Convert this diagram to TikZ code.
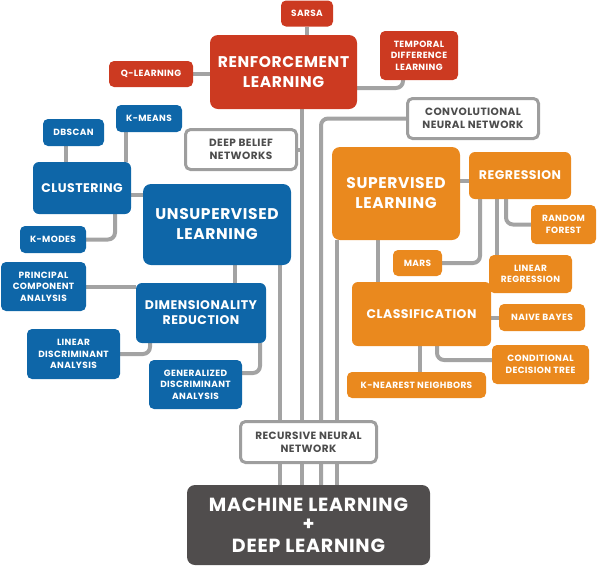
\documentclass[tikz,border=0pt]{standalone}
\usepackage{fontspec}
\setmainfont{Poppins}[LetterSpace=4]
\definecolor{rlred}{RGB}{204,58,33}
\definecolor{ulblue}{RGB}{14,102,168}
\definecolor{slorange}{RGB}{234,137,30}
\definecolor{mlgray}{RGB}{80,77,77}
\definecolor{linegray}{RGB}{163,163,163}
\definecolor{bordgray}{RGB}{158,158,158}
\definecolor{txtgray}{RGB}{77,77,77}
\pgfdeclarelayer{bg}
\pgfsetlayers{bg,main}
\tikzset{
  sz/.style 2 args={minimum width=#1pt, minimum height=#2pt},
  boxbase/.style={rounded corners=5pt, inner sep=0pt, align=center, text=white},
  redbox/.style={boxbase, fill=rlred},
  bluebox/.style={boxbase, fill=ulblue},
  orangebox/.style={boxbase, fill=slorange},
  graybox/.style={boxbase, fill=white, draw=bordgray, line width=3pt, text=txtgray,
     font=\fontsize{10.5}{13}\selectfont\bfseries},
  bigtxt/.style={rounded corners=8pt, font=\fontsize{15.5}{20}\selectfont\bfseries},
  midtxt/.style={rounded corners=6pt, font=\fontsize{12.5}{15}\selectfont\bfseries},
  smalltxt/.style={font=\fontsize{9}{11.5}\selectfont\bfseries},
  conn/.style={draw=linegray, line width=4pt, rounded corners=7pt},
}
\begin{document}
\begin{tikzpicture}[x=1pt,y=-1pt]
\useasboundingbox (0,0) rectangle (599,566);
% nodes
\node[redbox,bigtxt,sz={147}{74}] (rl) at (283.5,72) {RENFORCEMENT\\LEARNING};
\node[redbox,smalltxt,sz={52}{26}] (sarsa) at (307,13.5) {SARSA};
\node[redbox,smalltxt,sz={84}{26}] (ql) at (151,74) {Q-LEARNING};
\node[redbox,smalltxt,sz={78}{49}] (tdl) at (419,55.5) {TEMPORAL\\DIFFERENCE\\LEARNING};
\node[graybox,sz={131}{40}] (cnn) at (473,118.5) {CONVOLUTIONAL\\NEURAL NETWORK};
\node[graybox,sz={111}{40}] (dbn) at (241,149.5) {DEEP BELIEF\\NETWORKS};
\node[bluebox,midtxt,sz={98}{52}] (clu) at (82,188) {CLUSTERING};
\node[bluebox,smalltxt,sz={61}{27}] (dbscan) at (73.5,132.5) {DBSCAN};
\node[bluebox,smalltxt,sz={66}{27}] (kmeans) at (149,118.5) {K-MEANS};
\node[bluebox,smalltxt,sz={66}{27}] (kmodes) at (53,239.5) {K-MODES};
\node[bluebox,bigtxt,sz={148}{81}] (ul) at (217,224.5) {UNSUPERVISED\\LEARNING};
\node[bluebox,midtxt,sz={130}{60}] (dr) at (201,313) {DIMENSIONALITY\\REDUCTION};
\node[bluebox,smalltxt,sz={85}{49}] (pca) at (43.5,286.5) {PRINCIPAL\\COMPONENT\\ANALYSIS};
\node[bluebox,smalltxt,sz={93}{50}] (lda) at (73.5,354) {LINEAR\\DISCRIMINANT\\ANALYSIS};
\node[bluebox,smalltxt,sz={93}{49}] (gda) at (195.5,384.5) {GENERALIZED\\DISCRIMINANT\\ANALYSIS};
\node[orangebox,bigtxt,sz={128}{93}] (sl) at (396,193.5) {SUPERVISED\\LEARNING};
\node[orangebox,midtxt,sz={102}{47}] (reg) at (520,175.5) {REGRESSION};
\node[orangebox,smalltxt,sz={65}{39}] (rf) at (563.5,224.5) {RANDOM\\FOREST};
\node[orangebox,smalltxt,sz={83}{38}] (lr) at (530.5,274) {LINEAR\\REGRESSION};
\node[orangebox,smalltxt,sz={49}{26}] (mars) at (417.5,263) {MARS};
\node[orangebox,midtxt,sz={139}{64}] (cls) at (421.5,314) {CLASSIFICATION};
\node[orangebox,smalltxt,sz={86}{27}] (nb) at (542,317.5) {NAIVE BAYES};
\node[orangebox,smalltxt,sz={97}{39}] (cdt) at (540.5,364.5) {CONDITIONAL\\DECISION TREE};
\node[orangebox,smalltxt,sz={139}{26}] (knn) at (416.5,385) {K-NEAREST NEIGHBORS};
\node[boxbase,fill=mlgray,rounded corners=8pt,sz={243}{80},font=\fontsize{19}{21.5}\selectfont\bfseries] (ml) at (308.5,525) {MACHINE LEARNING\\[-2pt]+\\DEEP LEARNING};
% connectors
\begin{pgfonlayer}{bg}
\path[conn] (sarsa.south) -- (sarsa.south |- rl.north);
\path[conn] (ql.east) -- (ql.east -| rl.west);
\path[conn] ([xshift=-16pt]tdl.south) |- ([yshift=-16pt]rl.east);
\path[conn] ([xshift=18.5pt]rl.south) -- ([xshift=18.5pt]rl.south |- ml.north);
\path[conn] (dbn.east) -- ([xshift=18.5pt]rl.south |- dbn.east);
\path[conn] (cnn.west) -| ([xshift=12.5pt]ml.north);
\path[conn] ([xshift=63pt]ul.south) -- ([xshift=63pt]ul.south |- ml.north);
\path[conn] ([xshift=-59pt]sl.south) -- ([xshift=-59pt]sl.south |- ml.north);
\path[conn] ([yshift=-7pt]clu.east) -- ([yshift=-7pt]clu.east -| ul.west);
\path[conn] ([xshift=-7.5pt]dbscan.south) -- ([xshift=-7.5pt]dbscan.south |- clu.north);
\path[conn] ([xshift=-23pt]kmeans.south) -- ([xshift=-23pt]kmeans.south |- clu.north);
\path[conn] ([xshift=33pt]clu.south) |- (kmodes.east);
\path[conn] ([xshift=18pt]ul.south) -- ([xshift=18pt]ul.south |- dr.north);
\path[conn] (pca.east) -- (pca.east -| dr.west);
\path[conn] ([xshift=-51pt]dr.south) |- (lda.east);
\path[conn] ([xshift=59pt]dr.south) |- ([yshift=11.5pt]gda.east);
\path[conn] ([yshift=-5.5pt]reg.west) -- ([yshift=-5.5pt]reg.west -| sl.east);
\path[conn] ([xshift=-14pt]reg.south) |- (rf.west);
\path[conn] ([xshift=-23pt]reg.south) -- ([xshift=-23pt]reg.south |- lr.north);
\path[conn] ([xshift=-40pt]reg.south) |- (mars.east);
\path[conn] ([xshift=-18pt]sl.south) -- ([xshift=-18pt]sl.south |- cls.north);
\path[conn] (nb.west) -- (nb.west -| cls.east);
\path[conn] ([xshift=15.5pt]cls.south) |- ([yshift=4.5pt]cdt.west);
\path[conn] ([xshift=-1.5pt]cls.south) -- ([xshift=-1.5pt]cls.south |- knn.north);
\end{pgfonlayer}
\node[graybox,sz={136}{41}] (rnn) at (308.5,442) {RECURSIVE NEURAL\\NETWORK};
\end{tikzpicture}
\end{document}
